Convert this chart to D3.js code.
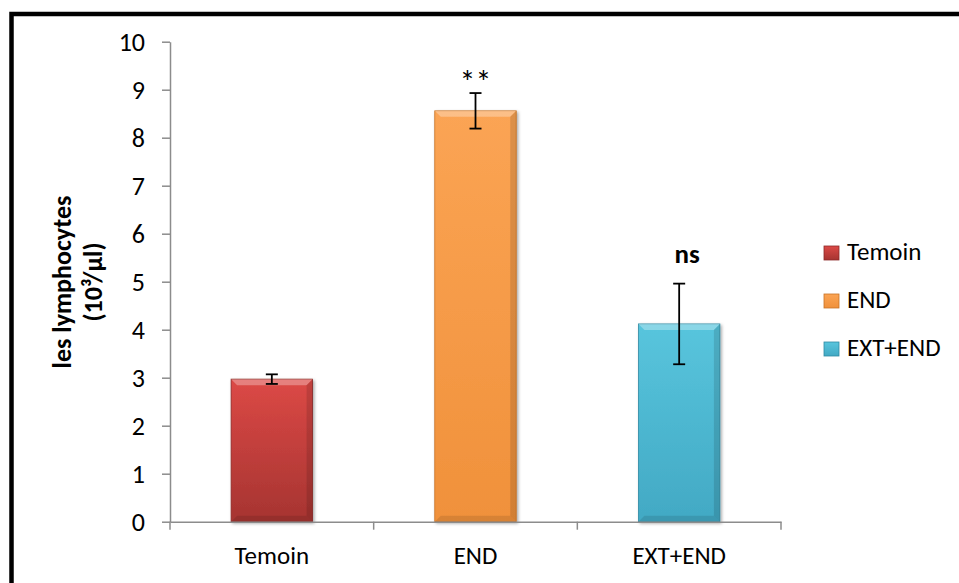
<!DOCTYPE html>
<html>
<head>
<meta charset="utf-8">
<script src="https://cdn.jsdelivr.net/npm/d3@7"></script>
<style>
body { margin: 0; background: #fff; }
text { font-family: Carlito, Calibri, "Open Sans", sans-serif; }
</style>
</head>
<body>
<svg width="959" height="583"></svg>
<script>
var groups = ['Temoin', 'END', 'EXT+END'];
var values = [2.97, 8.56, 4.12];
var errors = [0.1, 0.37, 0.84];
var marks = ['', '**', 'ns'];
var yTicks = [0, 1, 2, 3, 4, 5, 6, 7, 8, 9, 10];
var colors = [
    {top: '#dc4946', bottom: '#a63431', edge: '#8c2a28'},
    {top: '#fba454', bottom: '#f0913b', edge: '#c97326'},
    {top: '#58c5dd', bottom: '#42a9c4', edge: '#2f8aa3'}
];

var svg = d3.select('svg');
var font = 'Carlito, Calibri, "Open Sans", sans-serif';

// outer frame
svg.append('path')
    .attr('d', 'M11.5,583 V14 H959')
    .attr('fill', 'none')
    .attr('stroke', '#000')
    .attr('stroke-width', 4.5);

var x = d3.scaleBand().domain(groups).range([170, 781]).paddingInner(0.6).paddingOuter(0.3);
var y = d3.scaleLinear().domain([0, 10]).range([521.7, 41.7]);

var defs = svg.append('defs');
colors.forEach(function(c, i) {
    var g = defs.append('linearGradient')
        .attr('id', 'grad' + i)
        .attr('x1', 0).attr('y1', 0).attr('x2', 0).attr('y2', 1);
    g.append('stop').attr('offset', '0%').attr('stop-color', c.top);
    g.append('stop').attr('offset', '100%').attr('stop-color', c.bottom);
});
var f = defs.append('filter').attr('id', 'shadow').attr('x', '-20%').attr('y', '-20%').attr('width', '140%').attr('height', '140%');
f.append('feDropShadow').attr('dx', 1.5).attr('dy', 1.5).attr('stdDeviation', 1.5).attr('flood-color', '#000').attr('flood-opacity', 0.35);

// bars
var bar = svg.selectAll('.bar')
    .data(groups)
    .enter()
    .append('g')
    .attr('class', 'bar');

bar.append('rect')
    .attr('x', function(d) { return x(d); })
    .attr('y', function(d, i) { return y(values[i]); })
    .attr('width', x.bandwidth())
    .attr('height', function(d, i) { return y(0) - y(values[i]); })
    .attr('fill', function(d, i) { return 'url(#grad' + i + ')'; })
    .attr('stroke', function(d, i) { return colors[i].edge; })
    .attr('stroke-width', 0.8)
    .attr('filter', 'url(#shadow)');

// bevel highlights
bar.append('path')
    .attr('d', function(d, i) {
        var x0 = x(d), x1 = x(d) + x.bandwidth(), t = y(values[i]), b = 6;
        return 'M' + x0 + ',' + t + 'H' + x1 + 'L' + (x1 - b) + ',' + (t + b) + 'H' + (x0 + b) + 'Z';
    })
    .attr('fill', '#fff')
    .attr('opacity', 0.3);
bar.append('path')
    .attr('d', function(d, i) {
        var x0 = x(d), x1 = x(d) + x.bandwidth(), t = y(values[i]), bt = y(0), b = 6;
        return 'M' + x1 + ',' + t + 'V' + bt + 'L' + (x1 - b) + ',' + (bt - b) + 'V' + (t + b) + 'Z';
    })
    .attr('fill', '#000')
    .attr('opacity', 0.12);
bar.append('path')
    .attr('d', function(d, i) {
        var x0 = x(d), x1 = x(d) + x.bandwidth(), bt = y(0), b = 6;
        return 'M' + x0 + ',' + bt + 'H' + x1 + 'L' + (x1 - b) + ',' + (bt - b) + 'H' + (x0 + b) + 'Z';
    })
    .attr('fill', '#000')
    .attr('opacity', 0.1);

// error bars
var err = bar.append('g').attr('stroke', '#000').attr('stroke-width', 1.8);
err.append('line')
    .attr('x1', function(d) { return x(d) + x.bandwidth() / 2; })
    .attr('x2', function(d) { return x(d) + x.bandwidth() / 2; })
    .attr('y1', function(d, i) { return y(values[i] + errors[i]); })
    .attr('y2', function(d, i) { return y(values[i] - errors[i]); });
[1, -1].forEach(function(s) {
    err.append('line')
        .attr('x1', function(d) { return x(d) + x.bandwidth() / 2 - 6; })
        .attr('x2', function(d) { return x(d) + x.bandwidth() / 2 + 6; })
        .attr('y1', function(d, i) { return y(values[i] + s * errors[i]); })
        .attr('y2', function(d, i) { return y(values[i] + s * errors[i]); });
});

// significance marks
bar.append('text')
    .attr('x', function(d, i) { return x(d) + x.bandwidth() / 2 + (i == 2 ? 8 : 0); })
    .attr('y', function(d, i) { return y(values[i] + errors[i]) - (i == 1 ? 0 : 21); })
    .attr('text-anchor', 'middle')
    .attr('font-size', function(d, i) { return i == 1 ? 32 : 27; })
    .attr('font-weight', function(d, i) { return i == 2 ? 'bold' : 'normal'; })
    .text(function(d, i) { return marks[i]; });

// axes
var yAxis = svg.append('g')
    .attr('transform', 'translate(170,0)')
    .call(d3.axisLeft(y).tickValues(yTicks).tickSize(8).tickPadding(17).tickSizeOuter(0));
yAxis.selectAll('text').attr('font-size', 26).attr('fill', '#000').style('font-family', font);

var xAxis = svg.append('g')
    .attr('transform', 'translate(0,' + y(0) + ')')
    .call(d3.axisBottom(x).tickSize(0).tickPadding(0));
xAxis.selectAll('text').attr('font-size', 25).attr('fill', '#000')
    .attr('y', 42).attr('dy', 0)
    .style('font-family', font);
var xEdges = [170].concat(groups.map(function(d) { return x(d) + x.bandwidth() + x.step() * x.paddingInner() / 2; }));
xEdges[3] = 781;
xAxis.selectAll('.edge')
    .data(xEdges)
    .enter()
    .append('line')
    .attr('class', 'edge')
    .attr('x1', function(d) { return d; })
    .attr('x2', function(d) { return d; })
    .attr('y1', 0)
    .attr('y2', 8);

svg.selectAll('.domain, .tick line, .edge').attr('stroke', '#8c8c8c').attr('stroke-width', 1.5);

// y title
var title = svg.append('text')
    .attr('transform', 'translate(78,282) rotate(-90)')
    .attr('text-anchor', 'middle')
    .attr('font-size', 26)
    .attr('font-weight', 'bold');
title.append('tspan').attr('x', 0).attr('dy', -7).text('les lymphocytes');
title.append('tspan').attr('x', 0).attr('dy', 31).text('(10³/µl)');

// legend
var legend = svg.selectAll('.legend')
    .data(groups)
    .enter()
    .append('g')
    .attr('class', 'legend')
    .attr('transform', function(d, i) { return 'translate(824,' + (246 + i * 48) + ')'; });
legend.append('rect')
    .attr('width', 15)
    .attr('height', 14)
    .attr('fill', function(d, i) { return 'url(#grad' + i + ')'; })
    .attr('stroke', function(d, i) { return colors[i].edge; })
    .attr('stroke-width', 0.8);
legend.append('text')
    .attr('x', 23)
    .attr('y', 14)
    .attr('font-size', 25)
    .text(function(d) { return d; });
</script>
</body>
</html>
